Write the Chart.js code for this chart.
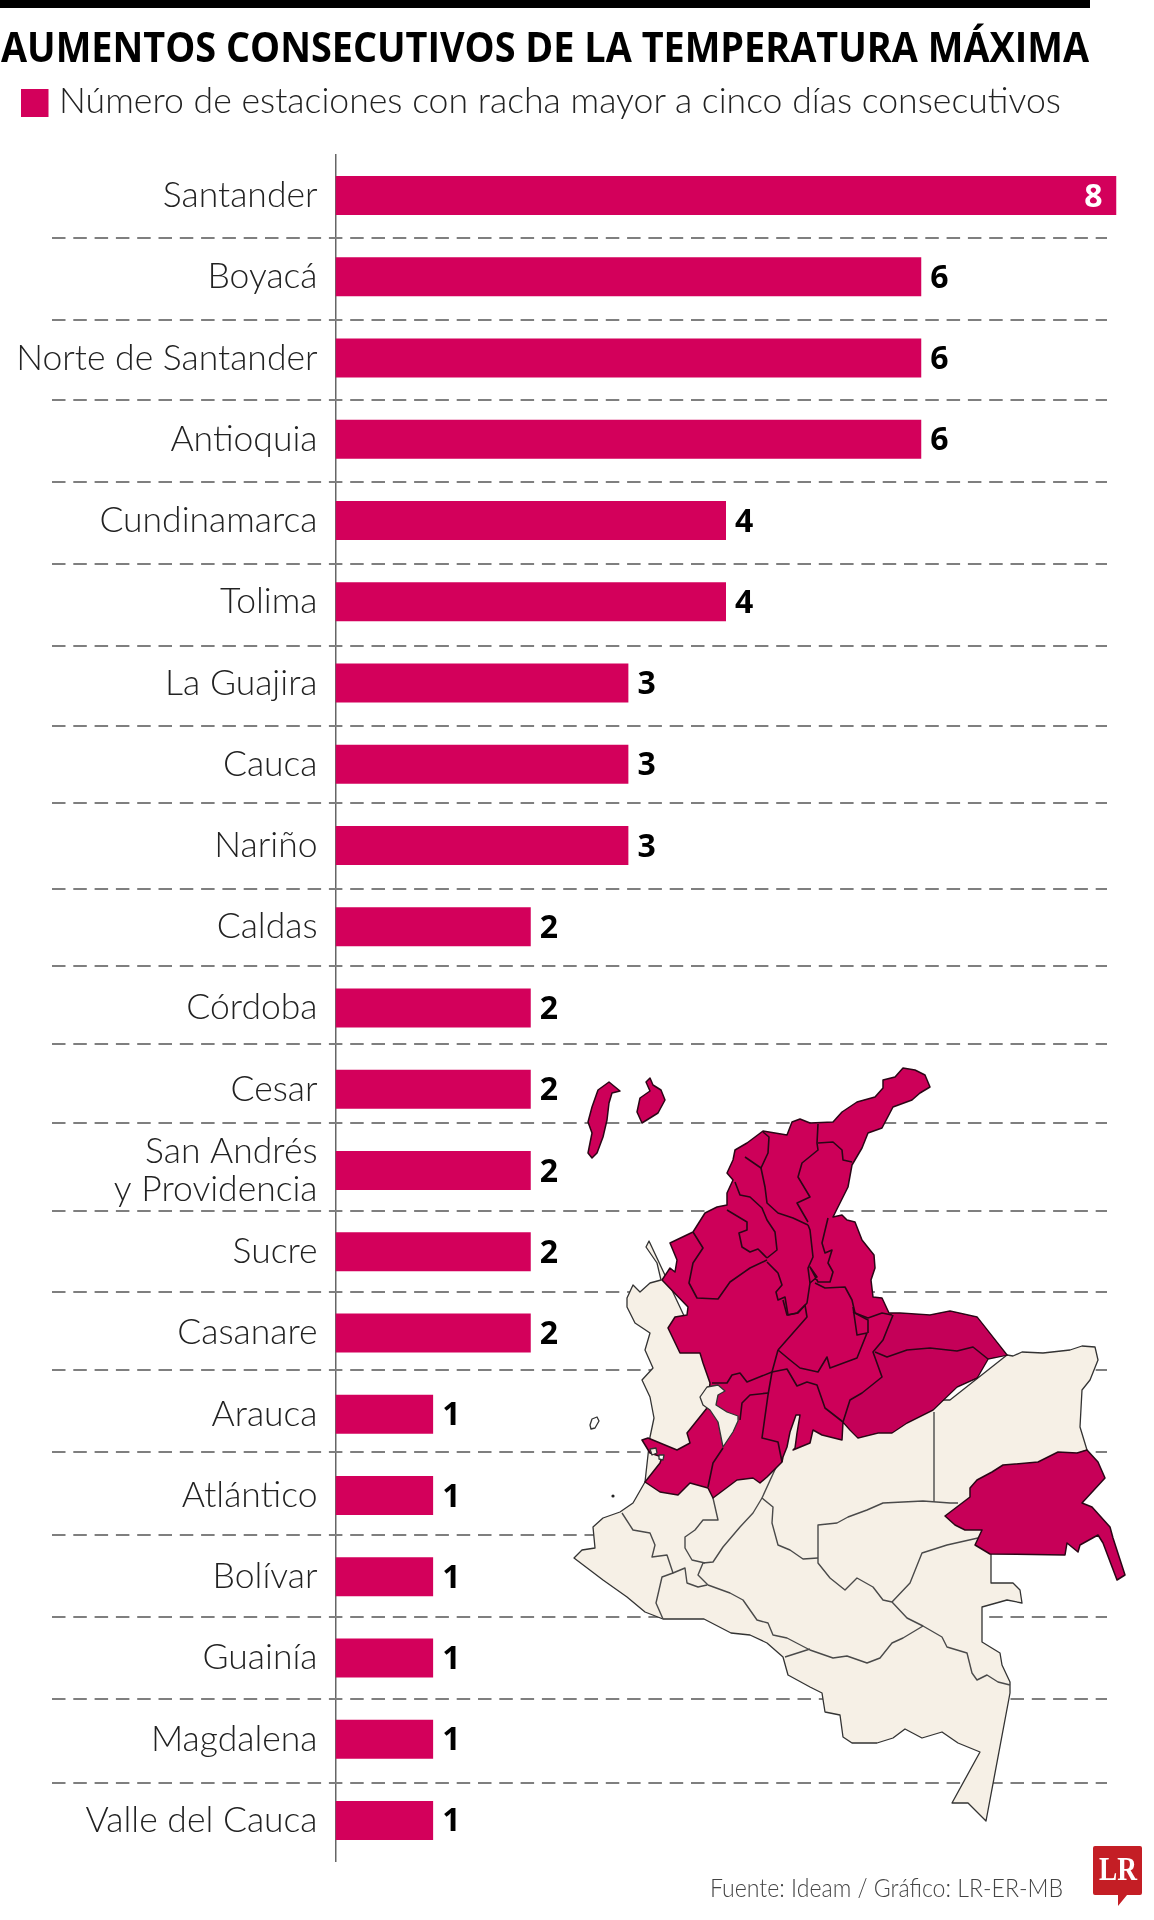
<!DOCTYPE html>
<html lang="es">
<head>
<meta charset="utf-8">
<title>Aumentos consecutivos de la temperatura máxima</title>
<script src="https://cdn.jsdelivr.net/npm/chart.js@4"></script>
<style>
html,body{margin:0;padding:0;background:#fff;}
#page{position:relative;width:1154px;height:1920px;overflow:hidden;background:#fff;}
#chart{position:absolute;left:0;top:0;}
#over{position:absolute;left:0;top:0;width:1154px;height:1920px;pointer-events:none;}
.mg{fill:#cd0059;stroke:#2a0616;stroke-width:1.5;stroke-linejoin:round;}
.mgd{fill:#c40058;stroke:none;}
.cr{fill:#f6f0e6;stroke:#333;stroke-width:1.3;stroke-linejoin:round;}
.lm{fill:none;stroke:#2a0616;stroke-width:1.6;stroke-linejoin:round;}
.lc{fill:none;stroke:#4a4a4a;stroke-width:1.4;stroke-linejoin:round;}
</style>
</head>
<body>
<div id="page">
<canvas id="chart" width="1154" height="1920"></canvas>
<svg id="over" viewBox="0 0 1154 1920" xmlns="http://www.w3.org/2000/svg">
  <rect x="0" y="0" width="1090" height="8" fill="#000"/>
  <text x="1" y="62" font-family="'Open Sans'" font-weight="700" font-size="41" fill="#000" textLength="1088" lengthAdjust="spacingAndGlyphs">AUMENTOS CONSECUTIVOS DE LA TEMPERATURA MÁXIMA</text>
  <rect x="21" y="89" width="27.5" height="28" fill="#d3005b"/>
  <text x="59" y="113" font-family="Lato" font-weight="300" font-size="36" fill="#222" textLength="1002" lengthAdjust="spacingAndGlyphs">Número de estaciones con racha mayor a cinco días consecutivos</text>

  <!-- cream part of the map -->
  <polygon class="cr" points="649,1241 646,1247 657,1263 661,1280 650,1283 640,1292 633,1285 627,1298 627,1307 635,1323 650,1333 645,1350 653,1368 642,1380 650,1397 654,1418 650,1437 645,1482 633,1503 620,1512 603,1518 593,1527 595,1548 582,1550 574,1558 603,1580 627,1597 645,1612 663,1619 704,1619 731,1633 750,1635 767,1643 783,1657 788,1675 810,1687 822,1693 825,1712 840,1715 843,1737 852,1743 877,1743 893,1738 905,1729 922,1738 942,1732 958,1743 980,1752 952,1803 968,1803 986,1821 1010,1693 1010,1682 1002,1665 1000,1653 982,1642 982,1607 1007,1600 1022,1603 1020,1590 1013,1583 991,1583 991,1550 1000,1480 1087,1450 1080,1427 1082,1390 1090,1380 1098,1360 1095,1347 1082,1346 1070,1350 1043,1353 1022,1352 1013,1356 1007,1355 950,1400 800,1400 700,1350"/>
  <polyline class="lc" points="934,1412 934,1502"/>
  <polyline class="lc" points="958,1503 950,1503 923,1501 903,1502 883,1503 867,1510 848,1517 837,1523 818,1525 818,1563 830,1578 845,1590 857,1578 873,1587 883,1600 892,1602 907,1618 923,1626 942,1637 947,1647 967,1653 972,1673 977,1680 987,1675 998,1682 1010,1685"/>
  <polyline class="lc" points="818,1558 803,1559 790,1550 778,1545 772,1523 773,1507 762,1498 778,1463"/>
  <polyline class="lc" points="762,1498 753,1513 740,1527 723,1547 713,1562 703,1563 698,1575 708,1585 730,1593 743,1600 750,1610 757,1620 768,1623 773,1635 787,1638 810,1650 833,1658 847,1656 867,1663 880,1658 892,1643 903,1638 923,1626"/>
  <polyline class="lc" points="892,1602 910,1583 922,1553 947,1545 978,1538"/>
  <polyline class="lc" points="785,1657 810,1649"/>
  <polyline class="lc" points="622,1513 633,1530 650,1533 655,1545 652,1557 667,1555 673,1573 662,1577 656,1603 663,1619"/>
  <polyline class="lc" points="673,1573 685,1568 687,1583 698,1587 707,1585"/>
  <polyline class="lc" points="713,1498 718,1520 703,1520 695,1530 685,1537 685,1548 692,1560 705,1563"/>
  <polygon class="cr" points="592,1419 597,1417 599,1421 595,1428 591,1429 590,1425" style="fill:#fff"/>
  <circle cx="613" cy="1496" r="1.6" fill="#222"/>

  <!-- magenta part of the map -->
  <polygon class="mg" points="609,1082 620,1091 612,1093 609,1103 607,1120 603,1137 597,1153 592,1158 588,1153 592,1133 588,1122 592,1107 598,1090"/>
  <polygon class="mg" points="650,1078 653,1085 661,1090 665,1100 658,1113 642,1123 637,1112 640,1098 650,1091 646,1082"/>
  <polygon class="mg" points="833,1122 842,1112 857,1102 875,1097 883,1088 883,1080 895,1077 903,1068 915,1070 925,1075 930,1087 920,1093 912,1100 893,1107 882,1128 868,1133 862,1148 852,1165 848,1187 833,1217 842,1215 847,1220 855,1222 862,1240 874,1255 875,1268 871,1280 873,1297 882,1298 889,1313 900,1313 930,1315 950,1311 977,1317 1007,1355 988,1359 977,1378 957,1387 933,1410 907,1423 892,1433 878,1433 858,1438 850,1430 843,1422 842,1440 822,1435 813,1430 810,1443 793,1450 795,1448 797,1433 800,1415 796,1415 790,1432 787,1447 783,1457 782,1462 767,1477 760,1483 753,1478 737,1480 713,1498 708,1488 690,1483 678,1495 660,1492 645,1482 660,1463 662,1457 650,1453 642,1440 648,1438 677,1450 690,1443 687,1433 707,1408 710,1383 703,1363 700,1353 680,1353 668,1328 675,1317 687,1315 688,1307 662,1280 670,1268 675,1272 677,1260 670,1243 693,1232 705,1213 717,1207 727,1205 727,1193 733,1180 727,1173 733,1160 735,1150 747,1143 763,1131 787,1135 792,1122 800,1119 810,1123"/>
  <polygon class="mgd" points="893,1315 900,1314 930,1316 950,1312 977,1318 1006,1355 988,1358 977,1377 957,1386 933,1409 907,1422 892,1432 878,1432 858,1437 851,1430 843,1421 850,1397 862,1393 882,1377 873,1352 883,1340"/>
  <polygon class="mg" points="1087,1450 1098,1462 1105,1478 1082,1503 1092,1507 1110,1527 1113,1538 1125,1575 1117,1580 1103,1543 1098,1535 1080,1545 1078,1552 1067,1543 1065,1555 990,1554 975,1545 982,1530 965,1530 955,1525 945,1516 970,1497 970,1488 977,1480 992,1472 1003,1465 1038,1462 1058,1452 1077,1453" style="fill:#c70058"/>
  <polyline class="lm" points="763,1132 769,1137 768,1153 761,1168 745,1157"/>
  <polyline class="lm" points="761,1168 765,1187 767,1203 778,1213 793,1218 808,1225"/>
  <polyline class="lm" points="735,1182 740,1195 750,1197 762,1208 767,1220 775,1232 777,1250 767,1258"/>
  <polyline class="lm" points="727,1210 747,1222 747,1230 739,1233 742,1247 750,1252 758,1249 767,1258"/>
  <polyline class="lm" points="693,1232 703,1248 693,1263 689,1283 697,1298 718,1299 730,1282 750,1268 767,1260"/>
  <polyline class="lm" points="767,1262 778,1273 782,1285 776,1292 778,1300 785,1297 788,1315 798,1313 807,1303 810,1283 808,1268 813,1257 810,1230 808,1225"/>
  <polyline class="lm" points="818,1124 817,1143 818,1150 802,1163 798,1177 810,1197 797,1203 808,1222"/>
  <polyline class="lm" points="818,1143 833,1142 842,1150 843,1160 852,1162"/>
  <polyline class="lm" points="828,1218 822,1243 825,1253 832,1250 828,1263 833,1272 830,1282 818,1282 810,1267 817,1277 810,1283"/>
  <polyline class="lm" points="815,1283 825,1288 845,1287 852,1300 855,1313 868,1318 882,1313 892,1315"/>
  <polyline class="lm" points="778,1350 790,1360 800,1368 818,1372 827,1357 830,1368 857,1358 867,1333 857,1335 853,1307"/>
  <polyline class="lm" points="853,1312 868,1320 868,1333"/>
  <polyline class="lm" points="778,1350 807,1317 805,1305 797,1313 787,1315 783,1300"/>
  <polyline class="lm" points="778,1350 772,1372 747,1382 740,1373 732,1375 727,1383 712,1383"/>
  <polyline class="lm" points="772,1372 787,1369 797,1386 807,1382 817,1385 825,1408 843,1422"/>
  <polyline class="lm" points="772,1372 768,1395 762,1438 778,1442 782,1462"/>
  <polyline class="lm" points="768,1393 750,1395 742,1403 740,1420"/>
  <polyline class="lm" points="723,1448 713,1463 708,1487"/>
  <polyline class="lm" points="893,1315 883,1340 873,1352 882,1377 862,1393 850,1400 843,1422"/>
  <polyline class="lm" points="875,1352 887,1357 907,1350 930,1348 957,1351 973,1347 988,1359"/>
  <polygon class="cr" points="700,1397 707,1387 718,1385 725,1391 718,1395 716,1405 727,1412 738,1416 738,1421 733,1432 723,1447 718,1422 710,1410 703,1405"/>
  <polygon class="cr" points="650,1449 656,1448 657,1453 652,1455"/>
  <polygon class="cr" points="659,1455 664,1455 663,1460 659,1459" style="fill:#fff"/>

  <!-- source and logo -->
  <text x="710" y="1897" font-family="Lato" font-weight="300" font-size="26" fill="#444" textLength="353" lengthAdjust="spacingAndGlyphs">Fuente: Ideam / Gráfico: LR-ER-MB</text>
  <path d="M1095,1846 H1140 Q1142,1846 1142,1848 V1893 Q1142,1895 1140,1895 H1127 L1118,1906 V1895 H1095 Q1093,1895 1093,1893 V1848 Q1093,1846 1095,1846 Z" fill="#c41e25"/>
  <text x="1099" y="1880" font-family="'Liberation Serif'" font-weight="700" font-size="33" fill="#fff" textLength="38" lengthAdjust="spacingAndGlyphs">LR</text>
</svg>
</div>
<script>
const categories = ["Santander","Boyacá","Norte de Santander","Antioquia","Cundinamarca","Tolima","La Guajira","Cauca","Nariño","Caldas","Córdoba","Cesar",["San Andrés","y Providencia"],"Sucre","Casanare","Arauca","Atlántico","Bolívar","Guainía","Magdalena","Valle del Cauca"];
const stations = [8,6,6,6,4,4,3,3,3,2,2,2,2,2,2,1,1,1,1,1,1];
const separatorRows = [0.527,1.529,2.517,3.522,4.53,5.545,6.53,7.477,8.535,9.483,10.445,11.41,12.5,13.49,14.455,15.47,16.49,17.5,18.51,19.54];

const separators = {
  id: 'separators',
  beforeDatasetsDraw(chart) {
    const y = chart.scales.y, ctx = chart.ctx;
    ctx.save();
    ctx.strokeStyle = '#7f7f7f';
    ctx.lineWidth = 2;
    ctx.setLineDash([13.5, 7.8]);
    separatorRows.forEach(r => {
      const py = Math.round(y.getPixelForValue(r));
      ctx.beginPath();
      ctx.moveTo(52, py);
      ctx.lineTo(1107, py);
      ctx.stroke();
    });
    ctx.restore();
  }
};
const valueLabels = {
  id: 'valueLabels',
  afterDatasetsDraw(chart) {
    const ctx = chart.ctx, meta = chart.getDatasetMeta(0);
    const top = Math.max(...stations);
    ctx.save();
    ctx.font = "700 32px 'Open Sans'";
    ctx.textBaseline = 'middle';
    meta.data.forEach((bar, i) => {
      const v = stations[i];
      if (v === top) {
        ctx.fillStyle = '#fff';
        ctx.textAlign = 'right';
        ctx.fillText(String(v), bar.x - 14, bar.y + 2);
      } else {
        ctx.fillStyle = '#000';
        ctx.textAlign = 'left';
        ctx.fillText(String(v), bar.x + 9, bar.y + 2);
      }
    });
    ctx.restore();
  }
};

new Chart(document.getElementById('chart'), {
  type: 'bar',
  data: { labels: categories, datasets: [{ data: stations, backgroundColor: '#d3005b', borderWidth: 0, barPercentage: 0.48, categoryPercentage: 1 }] },
  plugins: [separators, valueLabels],
  options: {
    indexAxis: 'y',
    responsive: false,
    animation: false,
    layout: { padding: { top: 155, bottom: 59, left: 0, right: 37.5 } },
    plugins: { legend: { display: false }, tooltip: { enabled: false } },
    scales: {
      x: { display: false, min: 0, max: 8 },
      y: {
        afterFit(s) { s.width = 335.5; },
        grid: { display: false, drawTicks: false },
        border: { color: '#666', width: 1.5 },
        ticks: { autoSkip: false, padding: 18, color: '#222', font: { family: 'Lato', weight: '300', size: 35.5, lineHeight: 1.08 } }
      }
    }
  }
});
</script>
</body>
</html>
